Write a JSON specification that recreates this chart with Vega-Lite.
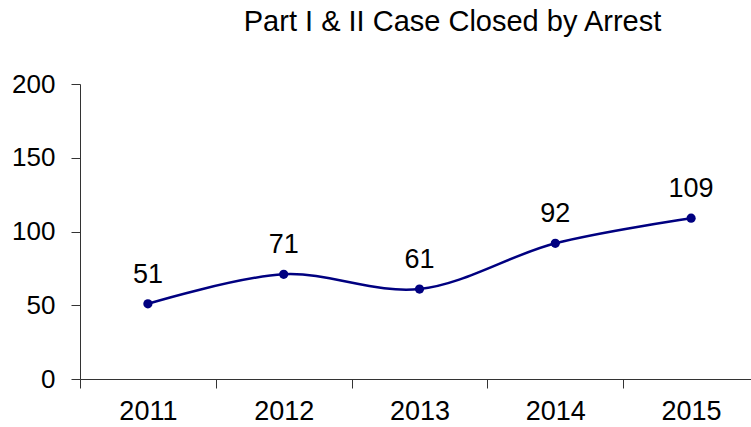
{
  "$schema": "https://vega.github.io/schema/vega-lite/v6.json",
  "width": 671,
  "height": 295,
  "autosize": "none",
  "padding": {"left": 80, "top": 84, "right": 0, "bottom": 48},
  "background": "white",
  "title": {
    "text": "Part I & II Case Closed by Arrest",
    "font": "Liberation Sans",
    "fontSize": 29,
    "fontWeight": "normal",
    "color": "#000000",
    "anchor": "middle",
    "frame": "group",
    "dx": 37,
    "baseline": "alphabetic",
    "offset": 11
  },
  "config": {"view": {"stroke": null}},
  "data": {
    "values": [
      {"year": "2011", "value": 51},
      {"year": "2012", "value": 71},
      {"year": "2013", "value": 61},
      {"year": "2014", "value": 92},
      {"year": "2015", "value": 109}
    ]
  },
  "encoding": {
    "x": {
      "field": "year",
      "type": "ordinal",
      "scale": {"range": [0, 679], "paddingInner": 0, "paddingOuter": 0},
      "axis": {
        "title": null,
        "labelAngle": 0,
        "tickBand": "extent",
        "labelFont": "Liberation Sans",
        "labelFontSize": 27,
        "labelColor": "#000000",
        "tickSize": 9,
        "labelPadding": 10,
        "domainColor": "#333333",
        "tickColor": "#333333",
        "grid": false
      }
    },
    "y": {
      "field": "value",
      "type": "quantitative",
      "scale": {"domain": [0, 200], "nice": false},
      "axis": {
        "title": null,
        "values": [0, 50, 100, 150, 200],
        "labelFont": "Liberation Sans",
        "labelFontSize": 26,
        "labelColor": "#000000",
        "tickSize": 9,
        "labelPadding": 16,
        "domainColor": "#333333",
        "tickColor": "#333333",
        "grid": false
      }
    }
  },
  "layer": [
    {"mark": {"type": "line", "interpolate": "catmull-rom", "color": "#000080", "strokeWidth": 2.5}},
    {"mark": {"type": "point", "filled": true, "size": 85, "color": "#000080", "opacity": 1}},
    {
      "mark": {"type": "text", "dy": -21, "baseline": "alphabetic", "fontSize": 27, "font": "Liberation Sans", "color": "#000000"},
      "encoding": {"text": {"field": "value", "type": "quantitative"}}
    }
  ]
}
